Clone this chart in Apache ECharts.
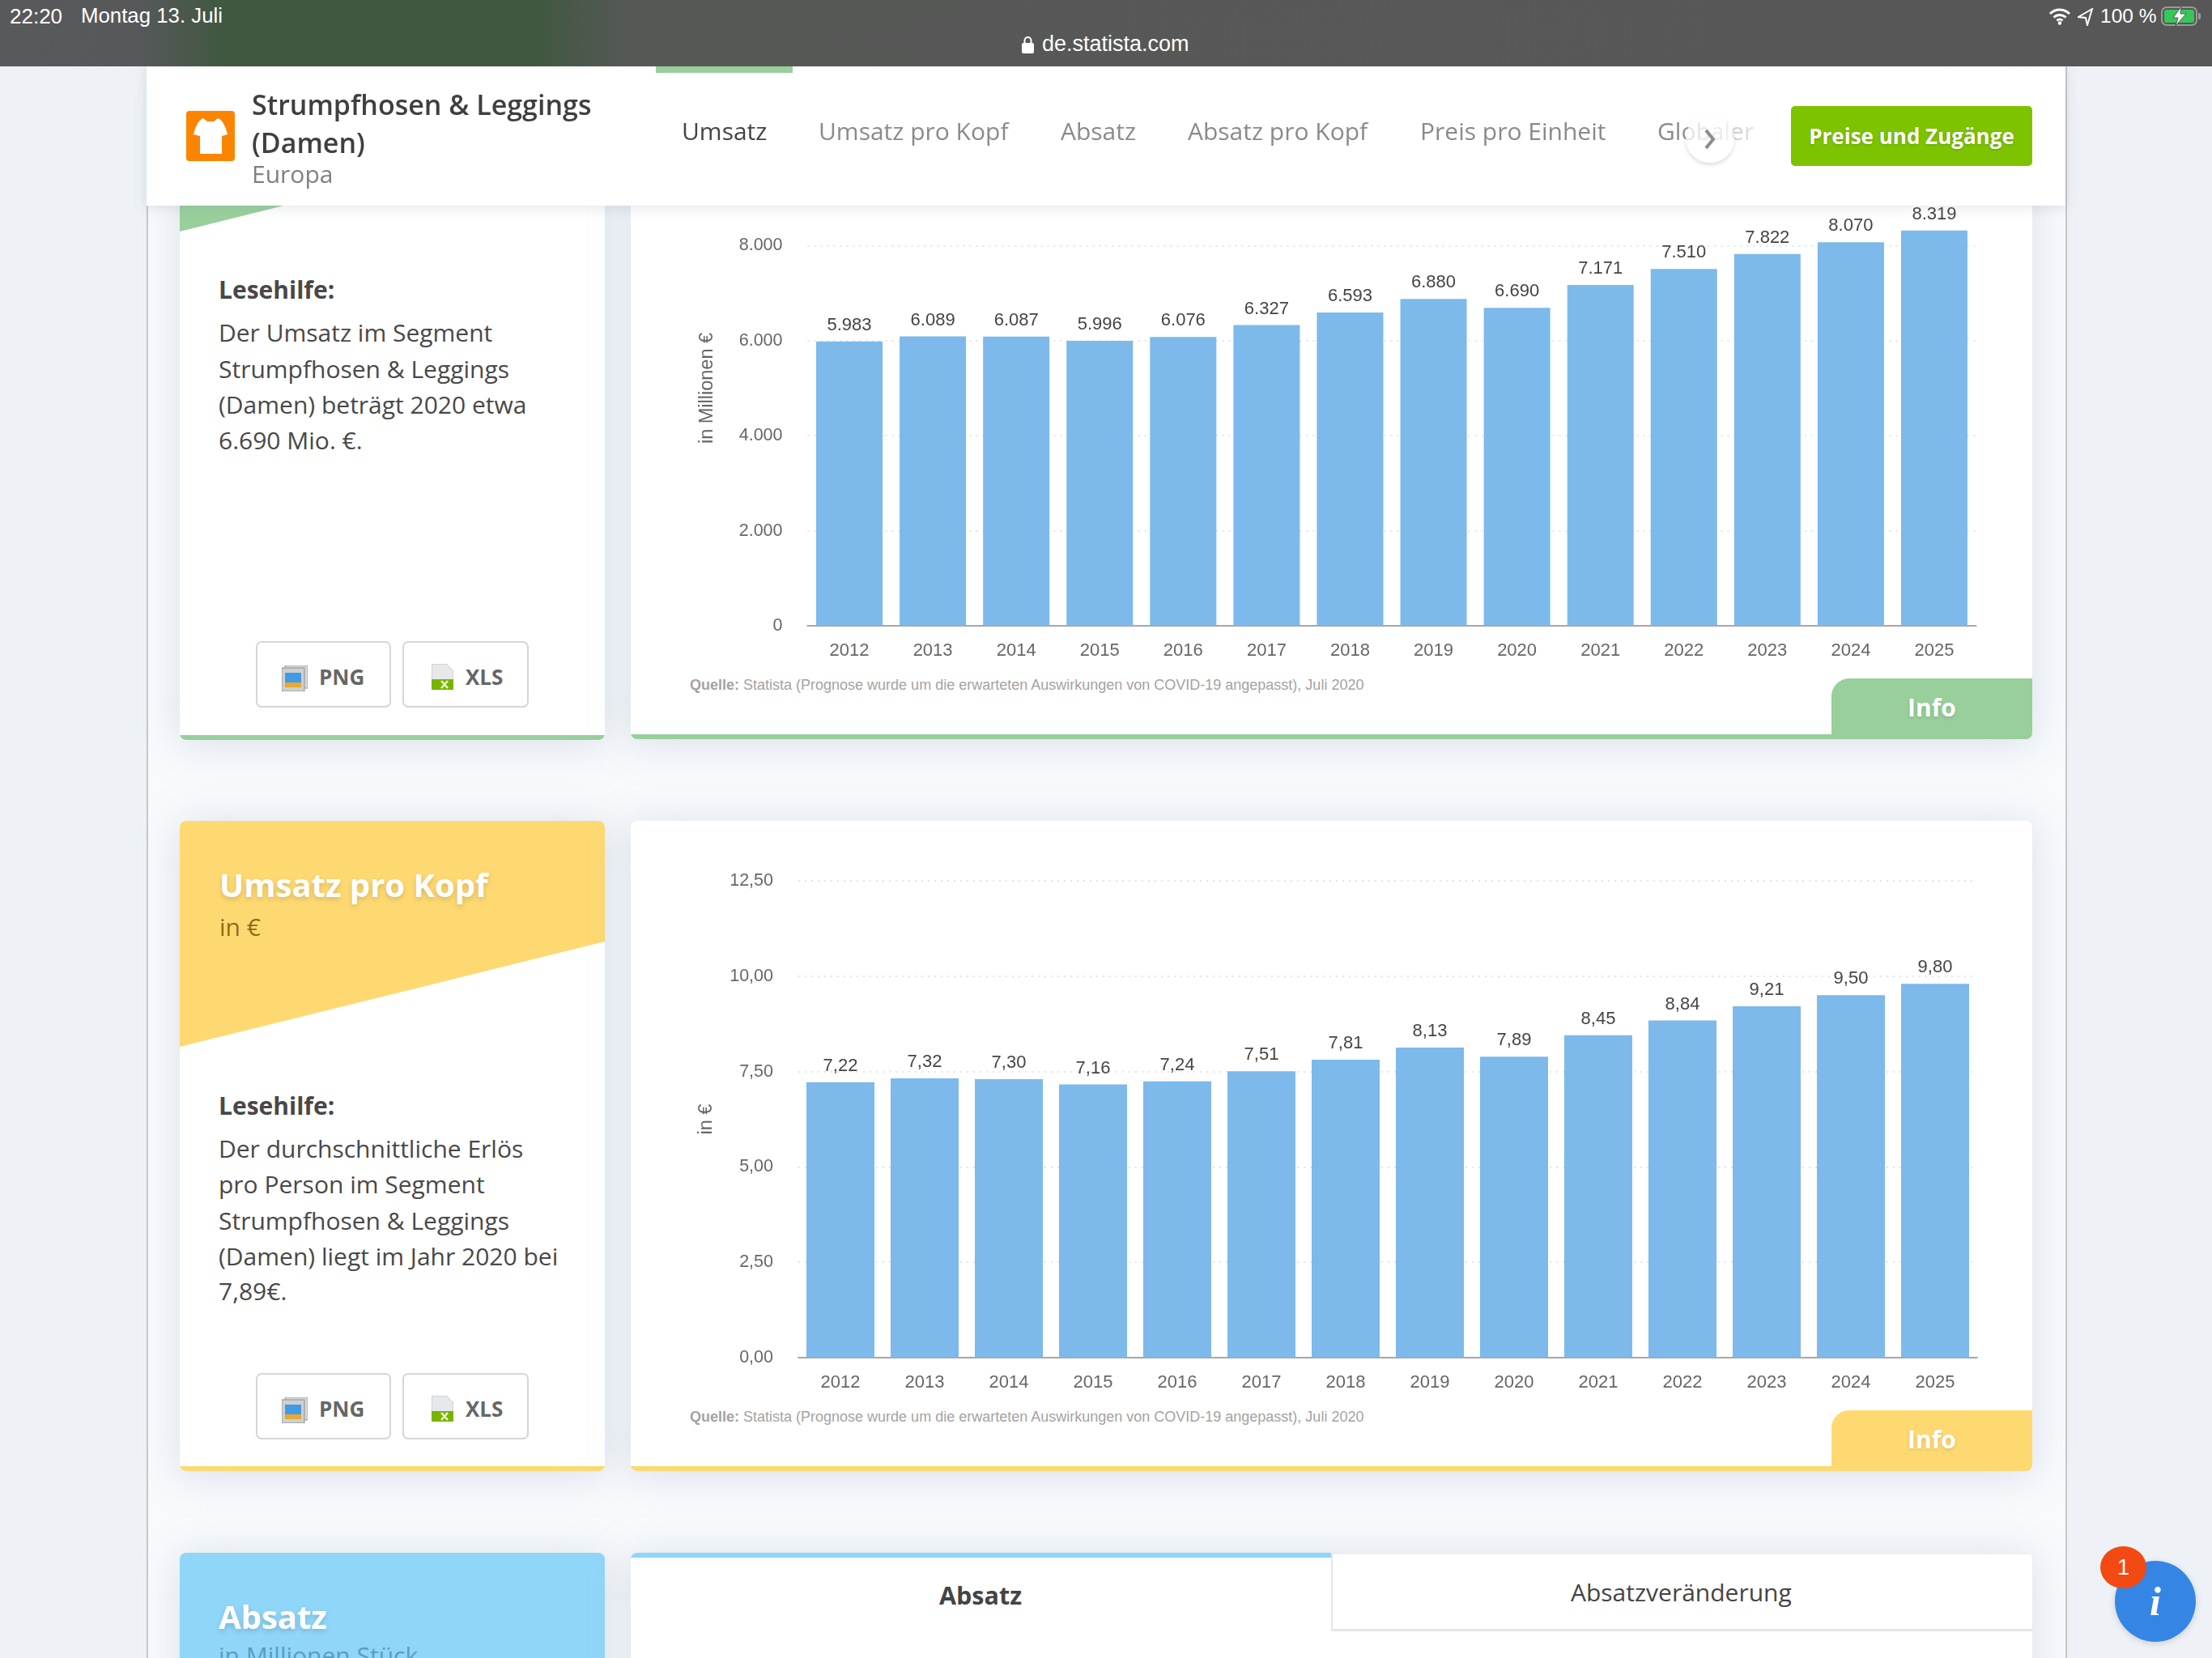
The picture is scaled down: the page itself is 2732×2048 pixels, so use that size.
<!DOCTYPE html>
<html lang="de"><head><meta charset="utf-8">
<script src="https://cdn.jsdelivr.net/npm/echarts@6/dist/echarts.min.js"></script>
<style>
html,body{margin:0;padding:0;width:2732px;height:2048px;overflow:hidden;background:#eef2f6;font-family:"Open Sans",sans-serif;color:#444}
.a{position:absolute;white-space:nowrap}
#col{left:181px;top:0;width:2368px;height:2048px;background:#f8fafc;border-left:2px solid #c6c8ca;border-right:2px solid #c6c8ca}
.card{position:absolute;background:#fff;border-radius:8px;box-shadow:0 4px 50px rgba(165,180,200,.38);overflow:hidden}
.strip{position:absolute;left:0;right:0;bottom:0;height:6px}
.t{position:absolute;white-space:nowrap;line-height:1}
.btn{position:absolute;background:#fff;border:2px solid #d6d6d6;border-radius:7px;box-sizing:border-box;height:82px}
.btxt{position:absolute;font-weight:700;font-size:26px;color:#666;line-height:1}
.head{font-weight:700;font-size:40px;color:#fff;text-shadow:0 3px 6px rgba(0,0,0,.16)}
.body{font-size:30px;color:#484848}
.nav{font-size:30px;color:#8a8a8a;top:147px}
.q{font-family:"Liberation Sans",Arial,sans-serif;font-size:18px;color:#a3a3a3}
#chart{position:absolute;left:0;top:0;width:2732px;height:2048px;z-index:1}
#hdr{position:absolute;z-index:2;left:181px;top:82px;width:2370px;height:172px;background:#fff;box-shadow:0 2px 14px rgba(120,130,150,.22)}
#bar{position:absolute;z-index:3;left:0;top:0;width:2732px;height:82px;color:#fff;background:linear-gradient(90deg,#58595b 0,#57585a 170px,#3f583f 280px,#3f583f 660px,#565856 775px,#575757 100%);font-family:"Liberation Sans",Arial,sans-serif}
.top{z-index:3}
</style></head>
<body>
<div class="a" id="col"></div>

<!-- Row 1 -->
<div class="card" style="left:222px;top:100px;width:525px;height:814px">
  <div style="position:absolute;left:0;top:0;width:525px;height:186px;background:#98cf9b;clip-path:polygon(0 0,100% 0,100% 55px,0 186px)"></div>
  <div class="strip" style="background:#98cf9b"></div>
</div>
<div class="t body" style="left:270px;top:343px;font-weight:700;z-index:1">Lesehilfe:</div>
<div class="t body" style="left:270px;top:396px;z-index:1">Der Umsatz im Segment</div>
<div class="t body" style="left:270px;top:441px;z-index:1">Strumpfhosen &amp; Leggings</div>
<div class="t body" style="left:270px;top:485px;z-index:1">(Damen) beträgt 2020 etwa</div>
<div class="t body" style="left:270px;top:529px;z-index:1">6.690 Mio. €.</div>

<div class="card" style="left:779px;top:100px;width:1731px;height:813px">
  <div class="strip" style="background:#98cf9b"></div>
  <div style="position:absolute;left:1483px;top:738px;width:248px;height:75px;background:#98cf9b;border-top-left-radius:22px"></div>
  <div class="t" style="left:1577px;top:759px;font-size:30px;font-weight:700;color:#fff;text-shadow:0 2px 4px rgba(0,0,0,.12)">Info</div>
</div>
<div class="t q" style="left:852px;top:837px"><b>Quelle:</b> Statista (Prognose wurde um die erwarteten Auswirkungen von COVID-19 angepasst), Juli 2020</div>

<!-- Row 2 -->
<div class="card" style="left:222px;top:1014px;width:525px;height:803px">
  <div style="position:absolute;left:0;top:0;width:525px;height:279px;background:#fed972;clip-path:polygon(0 0,100% 0,100% 149px,0 279px)"></div>
  <div class="strip" style="background:#fed972"></div>
</div>
<div class="t head" style="left:271px;top:1073px;z-index:1">Umsatz pro Kopf</div>
<div class="t" style="left:271px;top:1130px;font-size:30px;color:#8f6d12;z-index:1">in €</div>
<div class="t body" style="left:270px;top:1351px;font-weight:700;z-index:1">Lesehilfe:</div>
<div class="t body" style="left:270px;top:1404px;z-index:1">Der durchschnittliche Erlös</div>
<div class="t body" style="left:270px;top:1448px;z-index:1">pro Person im Segment</div>
<div class="t body" style="left:270px;top:1493px;z-index:1">Strumpfhosen &amp; Leggings</div>
<div class="t body" style="left:270px;top:1537px;z-index:1">(Damen) liegt im Jahr 2020 bei</div>
<div class="t body" style="left:270px;top:1580px;z-index:1">7,89€.</div>

<div class="card" style="left:779px;top:1014px;width:1731px;height:803px">
  <div class="strip" style="background:#fed972"></div>
  <div style="position:absolute;left:1483px;top:728px;width:248px;height:75px;background:#fed972;border-top-left-radius:22px"></div>
  <div class="t" style="left:1577px;top:749px;font-size:30px;font-weight:700;color:#fff;text-shadow:0 2px 4px rgba(0,0,0,.12)">Info</div>
</div>
<div class="t q" style="left:852px;top:1741px"><b>Quelle:</b> Statista (Prognose wurde um die erwarteten Auswirkungen von COVID-19 angepasst), Juli 2020</div>

<!-- Row 3 -->
<div class="card" style="left:222px;top:1918px;width:525px;height:300px;background:#90d6f9"></div>
<div class="t head" style="left:270px;top:1977px;z-index:1">Absatz</div>
<div class="t" style="left:270px;top:2030px;font-size:30px;color:#5a9dbf;z-index:1">in Millionen Stück</div>
<div class="card" style="left:779px;top:1918px;width:1731px;height:300px">
  <div style="position:absolute;left:0;top:0;width:865px;height:6px;background:#90d6f9"></div>
  <div style="position:absolute;left:865px;top:0;width:866px;height:97px;box-sizing:border-box;border-left:2px solid #e6e6e6;border-bottom:3px solid #e6e6e6;border-top:2px solid #eee"></div>
</div>
<div class="t" style="left:1160px;top:1955px;font-size:30.5px;font-weight:700;color:#444;z-index:1">Absatz</div>
<div class="t" style="left:1940px;top:1952px;font-size:30px;color:#444;z-index:1">Absatzveränderung</div>

<!-- Download buttons -->
<svg width="0" height="0" style="position:absolute"><defs>
<symbol id="ipng" viewBox="0 0 32 32"><rect x="4" y="0" width="28" height="28" fill="#d9d9d9" stroke="#9a9a9a"/><rect x="0" y="3" width="28" height="29" fill="#cfcfcf" stroke="#8d8d8d"/><rect x="4" y="9" width="20" height="12" fill="#3f9be8"/><rect x="4" y="21" width="20" height="6" fill="#e5aa2e"/></symbol>
<symbol id="ixls" viewBox="0 0 27 32"><path d="M0 0H18L27 9V32H0Z" fill="#e6e8ea" stroke="#b5b8bb" stroke-width=".8"/><rect x="0" y="19" width="27" height="13" fill="#79b400"/><path d="M12 21l8 9M20 21l-8 9" stroke="#e8f5cf" stroke-width="2.6"/></symbol>
</defs></svg>
<div class="btn" style="left:316px;top:792px;width:167px;z-index:1"></div>
<svg class="a" style="left:348px;top:822px;z-index:1" width="32" height="32"><use href="#ipng"/></svg>
<div class="btxt" style="left:394px;top:823px;z-index:1">PNG</div>
<div class="btn" style="left:497px;top:792px;width:156px;z-index:1"></div>
<svg class="a" style="left:533px;top:820px;z-index:1" width="27" height="32"><use href="#ixls"/></svg>
<div class="btxt" style="left:575px;top:823px;z-index:1">XLS</div>
<div class="btn" style="left:316px;top:1696px;width:167px;z-index:1"></div>
<svg class="a" style="left:348px;top:1726px;z-index:1" width="32" height="32"><use href="#ipng"/></svg>
<div class="btxt" style="left:394px;top:1727px;z-index:1">PNG</div>
<div class="btn" style="left:497px;top:1696px;width:156px;z-index:1"></div>
<svg class="a" style="left:533px;top:1724px;z-index:1" width="27" height="32"><use href="#ixls"/></svg>
<div class="btxt" style="left:575px;top:1727px;z-index:1">XLS</div>

<div id="chart"></div>

<!-- Site header -->
<div id="hdr">
  <div style="position:absolute;left:629px;top:0;width:169px;height:8px;background:#98cf9b"></div>
</div>
<div class="a top" style="left:230px;top:137px;width:60px;height:62px;background:#fb8500;border-radius:4px"></div>
<svg class="a top" style="left:238px;top:146px" width="44" height="44" viewBox="0 0 44 44"><path d="M13 0L18 4H26L31 0C36 2 40 8 43 20L36 22V44H9V22L1 20C4 8 8 2 13 0Z" fill="#fff"/></svg>
<div class="t top" style="left:311px;top:112px;font-size:34px;font-weight:600;color:#3f3f3f">Strumpfhosen &amp; Leggings</div>
<div class="t top" style="left:311px;top:159px;font-size:34px;font-weight:600;color:#3f3f3f">(Damen)</div>
<div class="t top" style="left:311px;top:200px;font-size:30px;color:#808080">Europa</div>
<div class="t nav top" style="left:842px;color:#444">Umsatz</div>
<div class="t nav top" style="left:1011px">Umsatz pro Kopf</div>
<div class="t nav top" style="left:1310px">Absatz</div>
<div class="t nav top" style="left:1467px">Absatz pro Kopf</div>
<div class="t nav top" style="left:1754px">Preis pro Einheit</div>
<div class="t nav top" style="left:2047px;-webkit-mask-image:linear-gradient(90deg,#000 20%,rgba(0,0,0,.25) 100%);mask-image:linear-gradient(90deg,#000 20%,rgba(0,0,0,.25) 100%)">Globaler</div>
<div class="a top" style="left:2082px;top:141px;width:60px;height:60px;border-radius:50%;background:rgba(255,255,255,.72);box-shadow:0 3px 5px rgba(0,0,0,.13)"></div>
<svg class="a top" style="left:2104px;top:158px" width="16" height="28" viewBox="0 0 16 28"><path d="M3 3L12 14L3 25" fill="none" stroke="#8c8c8c" stroke-width="4"/></svg>
<div class="a top" style="left:2212px;top:131px;width:298px;height:74px;background:#7dc300;border-radius:5px;color:#fff;font-weight:700;font-size:26px;line-height:74px;text-align:center;text-shadow:0 1px 3px rgba(0,0,0,.2)">Preise und Zugänge</div>

<!-- Status bar -->
<div id="bar">
  <div class="t" style="left:12px;top:7px;font-size:26px">22:20</div>
  <div class="t" style="left:100px;top:7px;font-size:25.8px">Montag 13. Juli</div>
  <svg class="a" style="left:1261px;top:44px" width="17" height="22" viewBox="0 0 17 22"><rect x="1" y="9" width="15" height="13" rx="2" fill="#fff"/><path d="M4.5 10V6a4 4 0 0 1 8 0v4" fill="none" stroke="#fff" stroke-width="2"/></svg>
  <div class="t" style="left:1287px;top:41px;font-size:27px">de.statista.com</div>
  <svg class="a" style="left:2530px;top:9px" width="28" height="22" viewBox="0 0 28 22"><path d="M2 8a17 17 0 0 1 24 0M6.5 12.5a11 11 0 0 1 15 0M10.5 16.5a5 5 0 0 1 7 0" fill="none" stroke="#fff" stroke-width="3"/><circle cx="14" cy="19.5" r="2.2" fill="#fff"/></svg>
  <svg class="a" style="left:2566px;top:10px" width="20" height="22" viewBox="0 0 20 22"><path d="M18 1L1 11L10 12L12 21Z" fill="none" stroke="#fff" stroke-width="2"/></svg>
  <div class="t" style="left:2594px;top:8px;font-size:24.5px">100 %</div>
  <svg class="a" style="left:2669px;top:7px" width="50" height="26" viewBox="0 0 50 26"><rect x="1" y="2" width="43" height="22" rx="6" fill="none" stroke="#9a9a9a" stroke-width="2"/><rect x="4" y="5" width="37" height="16" rx="3" fill="#36c75a"/><rect x="46" y="9" width="3" height="8" rx="1.5" fill="#9a9a9a"/><path d="M25 1L15 15H21L18 25L31 10H24Z" fill="#fff" stroke="#555" stroke-width="1"/></svg>
</div>

<!-- Info bubble -->
<div class="a top" style="left:2612px;top:1928px;width:100px;height:100px;border-radius:50%;background:#3585e5;box-shadow:0 2px 8px rgba(0,0,0,.15)"></div>
<div class="a top" style="left:2612px;top:1948px;width:100px;text-align:center;font-family:'Liberation Serif',serif;font-style:italic;font-weight:700;font-size:50px;line-height:60px;color:#fff">i</div>
<div class="a top" style="left:2594px;top:1910px;width:57px;height:52px;border-radius:50%;background:#f24a12;text-align:center;color:#fff;font-size:28px;line-height:52px;font-family:'Liberation Sans',sans-serif">1</div>

<script>
const years = ["2012","2013","2014","2015","2016","2017","2018","2019","2020","2021","2022","2023","2024","2025"];
const umsatz = [5983,6089,6087,5996,6076,6327,6593,6880,6690,7171,7510,7822,8070,8319];
const umsatzProKopf = [7.22,7.32,7.30,7.16,7.24,7.51,7.81,8.13,7.89,8.45,8.84,9.21,9.50,9.80];
const umsatzTicks = [0,2000,4000,6000,8000,10000];
const kopfTicks = [0,2.5,5,7.5,10,12.5];

const fmtInt = v => String(Math.round(v)).replace(/\B(?=(\d{3})+$)/g, ".");
const fmtDec = v => Number(v).toFixed(2).replace(".", ",");
const FONT = '"Liberation Sans", Arial, sans-serif';

function xAxis(gridIndex){
  return {type:"category",gridIndex,data:years,
    axisLine:{lineStyle:{color:"#a6a6a6",width:2}},axisTick:{show:false},
    axisLabel:{color:"#666",fontSize:22,fontFamily:FONT,margin:20,interval:0}};
}
function yAxis(gridIndex,ticks,fmt,name,nameGap){
  return {type:"value",gridIndex,min:ticks[0],max:ticks[ticks.length-1],interval:ticks[1]-ticks[0],
    name,nameLocation:"middle",nameGap,nameRotate:90,
    nameTextStyle:{color:"#666",fontSize:23.5,fontFamily:FONT},
    axisLine:{show:false},axisTick:{show:false},
    axisLabel:{color:"#666",fontSize:21.5,fontFamily:FONT,margin:31,formatter:fmt},
    splitLine:{show:true,lineStyle:{color:"#e4e4e4",width:2,type:[2,6]}}};
}
function bars(idx,data,fmt,width){
  return {type:"bar",xAxisIndex:idx,yAxisIndex:idx,data,barWidth:width,silent:true,
    itemStyle:{color:"#7db9ea"},
    label:{show:true,position:"top",distance:9,color:"#444",fontSize:22,fontFamily:FONT,
      formatter:p=>fmt(p.value)}};
}
const chart = echarts.init(document.getElementById("chart"),null,{width:2732,height:2048});
chart.setOption({
  animation:false,backgroundColor:"transparent",
  grid:[
    {left:997.5,top:186,width:1443,height:587},
    {left:986,top:1088,width:1456,height:589}
  ],
  xAxis:[xAxis(0),xAxis(1)],
  yAxis:[yAxis(0,umsatzTicks,fmtInt,"in Millionen €",112),yAxis(1,kopfTicks,fmtDec,"in €",101)],
  series:[bars(0,umsatz,fmtInt,82),bars(1,umsatzProKopf,fmtDec,84)]
});
</script>
</body></html>
